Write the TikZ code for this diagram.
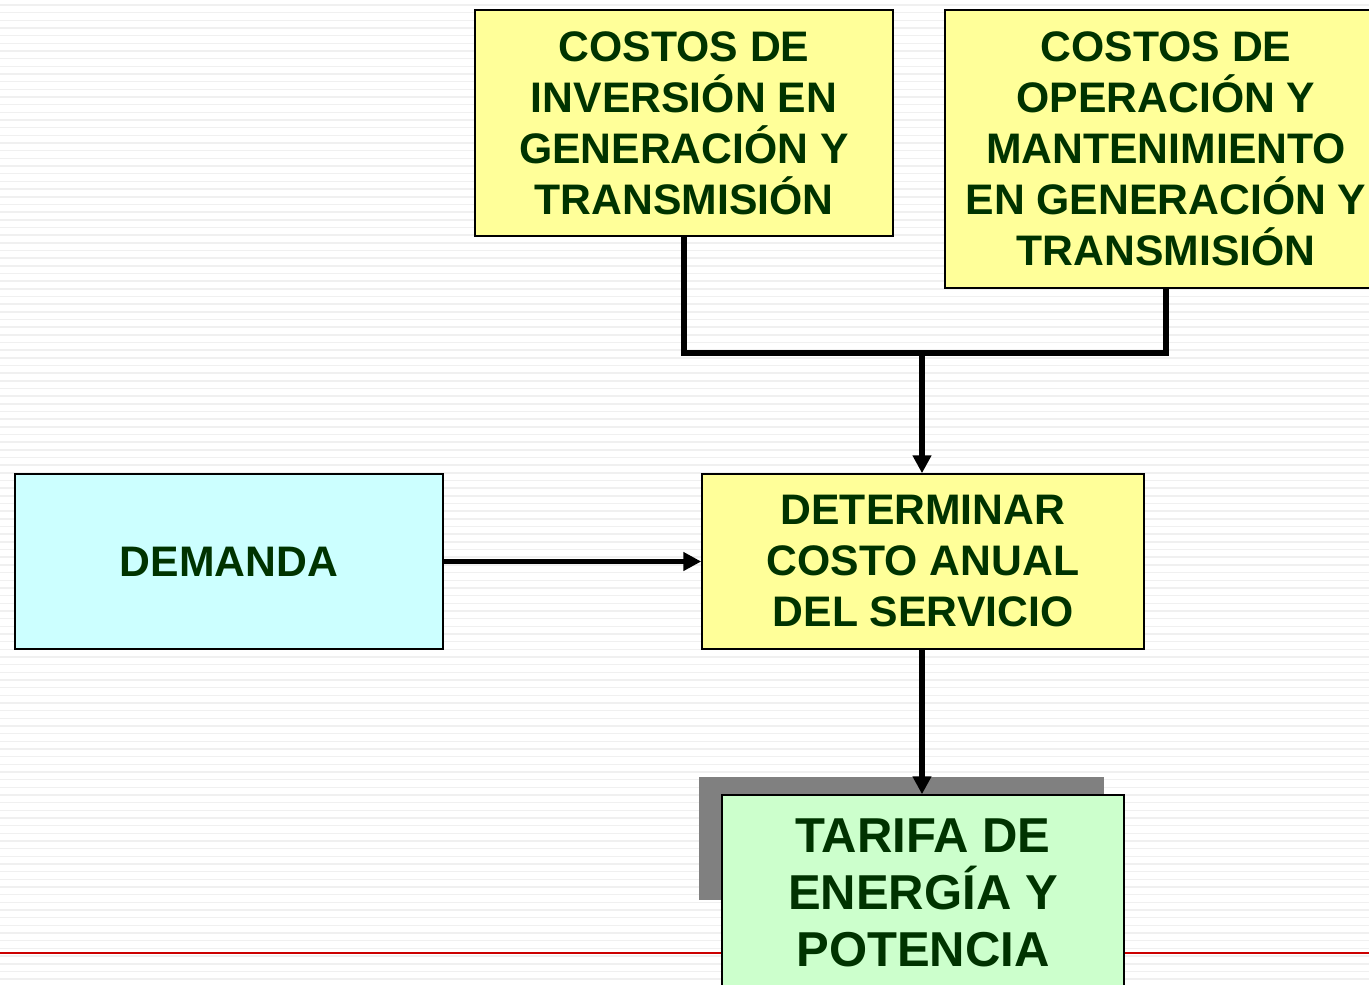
\documentclass[tikz,border=0pt]{standalone}
\usepackage{fontspec}
\setmainfont{Liberation Sans}
\usetikzlibrary{arrows.meta}
\definecolor{txtgreen}{HTML}{003300}
\definecolor{boxyellow}{HTML}{FFFF99}
\definecolor{boxcyan}{HTML}{CCFFFF}
\definecolor{boxgreen}{HTML}{CCFFCC}
\definecolor{stripe}{HTML}{F0F0F0}
\definecolor{rule}{HTML}{CC0000}
\tikzset{
  box/.style={draw=black, line width=1.5pt, align=center, text=txtgreen,
    font=\fontsize{42.7}{51}\selectfont\bfseries, inner sep=0pt},
  conn/.style={line width=5.5pt, draw=black},
  arr/.style={conn, -{Triangle[length=18pt,width=18pt]}}
}
\begin{document}
\begin{tikzpicture}[x=1pt,y=-1pt]
\useasboundingbox (0,0) rectangle (1369,985);
\clip (0,0) rectangle (1369,985);
\fill[white] (0,0) rectangle (1369,985);
\foreach \i in {0,...,128} {
  \draw[stripe, line width=1.5pt] (0,{5+\i*7.67}) -- (1369,{5+\i*7.67});
}
\draw[rule, line width=1.2pt] (0,953) -- (1369,953);
% boxes
\node[box, fill=boxyellow, minimum width=418pt, minimum height=226pt] (inv) at (684,123) {COSTOS DE\\INVERSIÓN EN\\GENERACIÓN Y\\TRANSMISIÓN};
\node[box, fill=boxyellow, minimum width=442pt, minimum height=278pt] (ope) at (1166,149) {COSTOS DE\\OPERACIÓN Y\\MANTENIMIENTO\\EN GENERACIÓN Y\\TRANSMISIÓN};
\node[box, fill=boxcyan, minimum width=428pt, minimum height=175pt] (dem) at (229,561.5) {DEMANDA};
\node[box, fill=boxyellow, minimum width=442pt, minimum height=175pt] (det) at (923,561.5) {DETERMINAR\\COSTO ANUAL\\DEL SERVICIO};
\fill[black!50] (699,777) rectangle (1104,900);
\node[box, fill=boxgreen, minimum width=402pt, minimum height=196pt,
  font=\fontsize{49}{57}\selectfont\bfseries] (tar) at (923,893) {TARIFA DE\\ENERGÍA Y\\POTENCIA};
% connectors
\coordinate (join) at (922,353);
\draw[conn] (inv.south) |- (join) -| (ope.south);
\draw[arr] (join) -- (join |- det.north);
\draw[arr] (dem.east) -- (det.west);
\draw[arr] (det.south -| join) -- (tar.north -| join);
\end{tikzpicture}
\end{document}
